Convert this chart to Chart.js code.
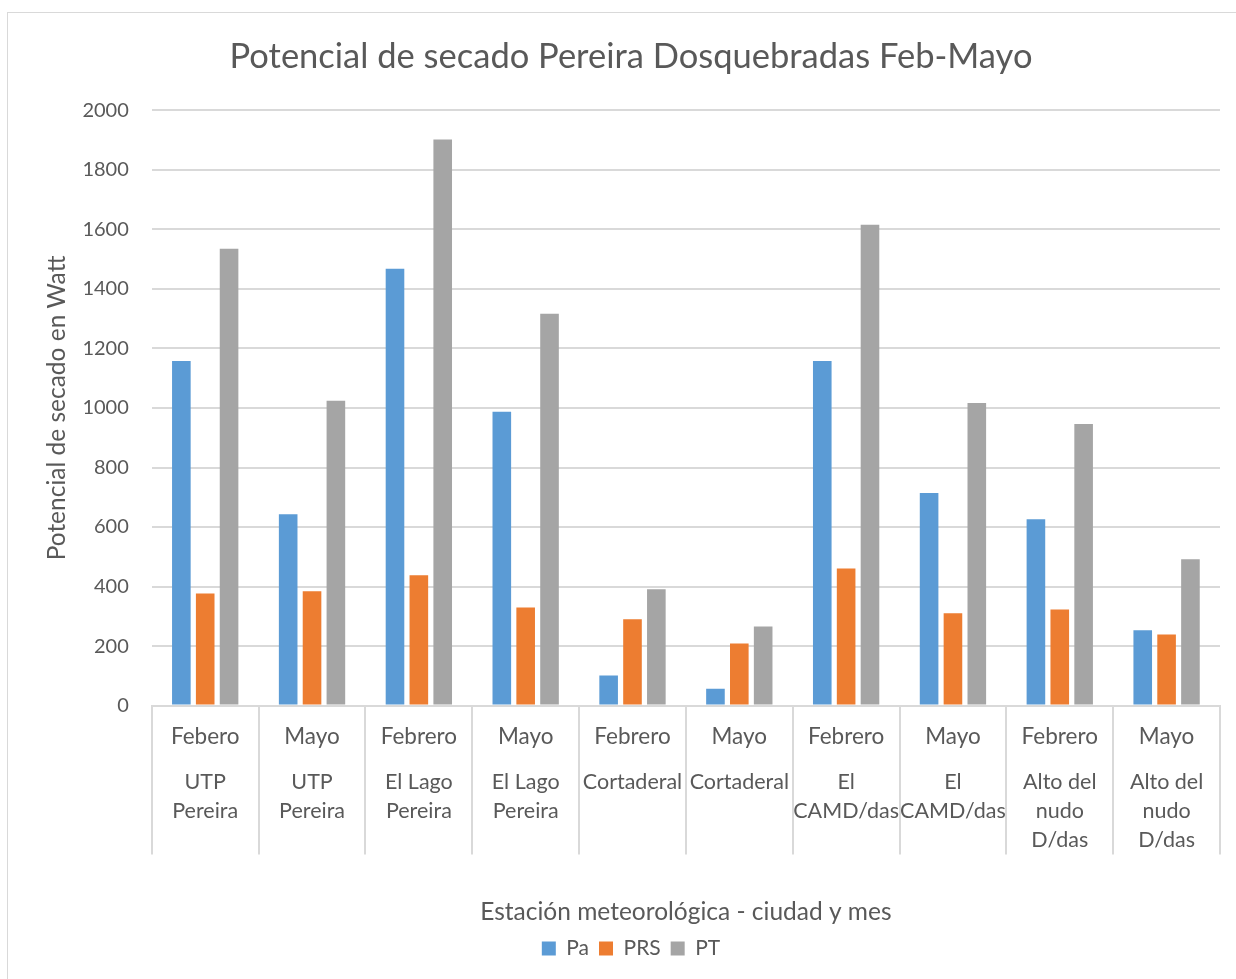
<!DOCTYPE html>
<html>
<head>
<meta charset="utf-8">
<script src="https://cdn.jsdelivr.net/npm/chart.js@4"></script>
<style>
  html, body { margin: 0; padding: 0; background: #fff; overflow: hidden; }
  #wrap { position: relative; width: 1236px; height: 979px; }
  #marco { position: absolute; left: 7px; top: 12px; width: 1240px; height: 980px;
           border: 1px solid #D9D9D9; box-sizing: border-box; pointer-events: none; }
</style>
</head>
<body>
<div id="wrap">
  <canvas id="grafico" width="1236" height="979"></canvas>
  <div id="marco"></div>
</div>
<script>
// Datos
const meses = ['Febero', 'Mayo', 'Febrero', 'Mayo', 'Febrero', 'Mayo', 'Febrero', 'Mayo', 'Febrero', 'Mayo'];
const estaciones = [
  ['UTP', 'Pereira'], ['UTP', 'Pereira'],
  ['El Lago', 'Pereira'], ['El Lago', 'Pereira'],
  'Cortaderal', 'Cortaderal',
  ['El', 'CAMD/das'], ['El', 'CAMD/das'],
  ['Alto del', 'nudo', 'D/das'], ['Alto del', 'nudo', 'D/das']
];
const pa  = [1158, 643, 1468, 987, 101, 57, 1158, 714, 626, 253];
const prs = [377, 384, 438, 330, 290, 209, 461, 310, 323, 239];
const pt  = [1535, 1024, 1902, 1317, 391, 266, 1616, 1017, 946, 492];

const FUENTE = 'Lato, "Open Sans", sans-serif';
const GRIS_TXT = '#595959';
const GRIS_LIN = '#D9D9D9';
const ALTO_LINEA = 29;

// Líneas separadoras entre categorías (eje de varios niveles)
const separadores = {
  id: 'separadores',
  afterDraw(chart) {
    const xs = chart.scales.x, x2 = chart.scales.x2;
    const n = meses.length;
    const ancho = (xs.right - xs.left) / n;
    const yFin = x2.top + x2.options.ticks.padding + 3 * ALTO_LINEA;
    const ctx = chart.ctx;
    ctx.save();
    ctx.strokeStyle = GRIS_LIN;
    ctx.lineWidth = 2;
    ctx.beginPath();
    for (let i = 0; i <= n; i++) {
      const x = Math.round(xs.left + i * ancho);
      ctx.moveTo(x, xs.top);
      ctx.lineTo(x, yFin);
    }
    ctx.stroke();
    ctx.restore();
  }
};

const ctx = document.getElementById('grafico').getContext('2d');
new Chart(ctx, {
  type: 'bar',
  data: {
    labels: meses,
    datasets: [
      { label: 'Pa',  data: pa,  backgroundColor: '#5B9BD5' },
      { label: 'PRS', data: prs, backgroundColor: '#ED7D31' },
      { label: 'PT',  data: pt,  backgroundColor: '#A5A5A5' }
    ]
  },
  options: {
    responsive: false,
    animation: false,
    devicePixelRatio: 1,
    layout: { padding: { left: 42, right: 16, top: 0, bottom: 10 } },
    datasets: { bar: { categoryPercentage: 0.67, barPercentage: 0.78 } },
    plugins: {
      title: {
        display: true,
        text: 'Potencial de secado Pereira Dosquebradas Feb-Mayo',
        color: GRIS_TXT,
        font: { family: FUENTE, size: 34.5, weight: 'normal' },
        padding: { top: 36, bottom: 33 }
      },
      legend: {
        position: 'bottom',
        labels: {
          color: GRIS_TXT,
          font: { family: FUENTE, size: 21 },
          boxWidth: 14, boxHeight: 14, padding: 10
        }
      },
      tooltip: { enabled: false }
    },
    scales: {
      x: {
        position: 'bottom',
        weight: 0,
        grid: { display: true, drawOnChartArea: false, drawTicks: false, color: GRIS_LIN },
        border: { display: true, color: GRIS_LIN, width: 2 },
        ticks: { color: GRIS_TXT, font: { family: FUENTE, size: 22.5 }, padding: 17.5, maxRotation: 0, autoSkip: false }
      },
      x2: {
        type: 'category',
        labels: estaciones,
        position: 'bottom',
        weight: 1,
        grid: { display: false, drawTicks: false },
        border: { display: false },
        ticks: { color: GRIS_TXT, font: { family: FUENTE, size: 21.5, lineHeight: ALTO_LINEA / 21.5 }, padding: 0, maxRotation: 0, autoSkip: false },
        title: {
          display: true,
          text: 'Estación meteorológica - ciudad y mes',
          color: GRIS_TXT,
          font: { family: FUENTE, size: 24.5 },
          padding: { top: 43, bottom: 1 }
        }
      },
      y: {
        min: 0, max: 2000,
        ticks: {
          stepSize: 200, color: GRIS_TXT, font: { family: FUENTE, size: 20 }, padding: 23,
          callback: v => String(v)
        },
        grid: { color: GRIS_LIN, lineWidth: 2, drawTicks: false },
        border: { display: false },
        title: {
          display: true,
          text: 'Potencial de secado en Watt',
          color: GRIS_TXT,
          font: { family: FUENTE, size: 24.5 },
          padding: { top: 0, bottom: -12 }
        }
      }
    }
  },
  plugins: [separadores]
});
</script>
</body>
</html>
